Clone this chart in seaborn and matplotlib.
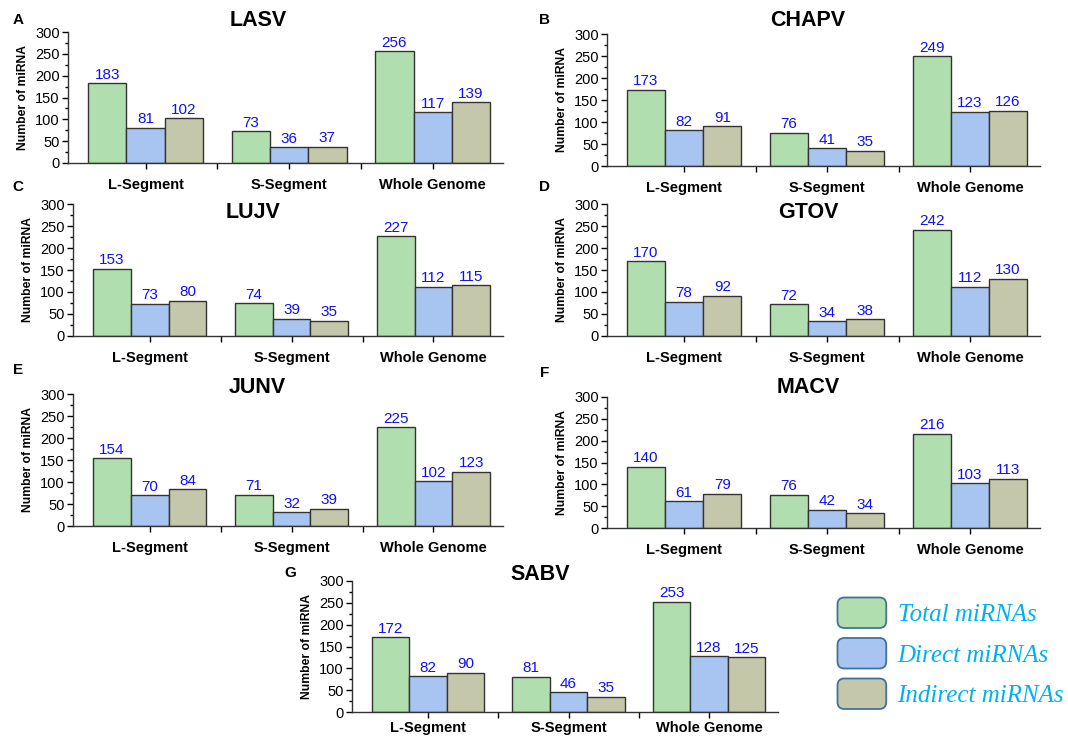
import matplotlib
matplotlib.use("Agg")
import matplotlib.pyplot as plt
from matplotlib.patches import Patch, FancyBboxPatch
from matplotlib.legend_handler import HandlerPatch
from matplotlib.ticker import MultipleLocator, FixedLocator
import seaborn as sns
import pandas as pd

# categories and series
segments = ["L-Segment", "S-Segment", "Whole Genome"]
mirna_types = ["Total miRNAs", "Direct miRNAs", "Indirect miRNAs"]
viruses = ["LASV", "CHAPV", "LUJV", "GTOV", "JUNV", "MACV", "SABV"]
panel_letters = ["A", "B", "C", "D", "E", "F", "G"]

# values per virus: [total, direct, indirect] for L, S, Whole
lasv = [[183, 81, 102], [73, 36, 37], [256, 117, 139]]
chapv = [[173, 82, 91], [76, 41, 35], [249, 123, 126]]
lujv = [[153, 73, 80], [74, 39, 35], [227, 112, 115]]
gtov = [[170, 78, 92], [72, 34, 38], [242, 112, 130]]
junv = [[154, 70, 84], [71, 32, 39], [225, 102, 123]]
macv = [[140, 61, 79], [76, 42, 34], [216, 103, 113]]
sabv = [[172, 82, 90], [81, 46, 35], [253, 128, 125]]
all_values = [lasv, chapv, lujv, gtov, junv, macv, sabv]

colors = ["#B1DEAF", "#A7C5F0", "#C5C7AB"]

sns.set_theme(style="ticks")
plt.rcParams["font.family"] = ["Liberation Sans", "DejaVu Sans"]
for key in ["text.color", "axes.labelcolor", "xtick.color", "ytick.color"]:
    plt.rcParams[key] = "black"

W, H = 1068, 737
fig = plt.figure(figsize=(W / 100, H / 100), dpi=100)

# axes boxes in pixels: left, top, right, bottom
boxes = [
    (68, 32, 503, 163),
    (607, 34, 1040, 166),
    (73, 204, 503, 336),
    (607, 204, 1040, 336),
    (73, 394, 503, 526),
    (607, 397, 1040, 528),
    (352, 581, 778, 712),
]
# title centers and letter positions in pixels
title_pos = [(258, 20), (808, 20), (253, 212), (808, 212), (257, 387), (808, 387), (540, 575)]
letter_pos = [(18, 20), (545, 20), (18, 187), (545, 187), (18, 370), (545, 373), (290, 573)]
xlabel_pad = [7, 7, 7, 7, 7, 7, 2.5]


def px_axes(box):
    l, t, r, b = box
    return [l / W, 1 - b / H, (r - l) / W, (b - t) / H]


class RoundBoxHandler(HandlerPatch):
    def create_artists(self, legend, orig_handle, xdescent, ydescent,
                       width, height, fontsize, trans):
        p = FancyBboxPatch((-xdescent, -ydescent), width, height,
                           boxstyle="round,pad=0,rounding_size=5",
                           facecolor=orig_handle.get_facecolor(),
                           edgecolor=orig_handle.get_edgecolor(),
                           linewidth=1.3, transform=trans)
        return [p]


for i, virus in enumerate(viruses):
    rows = []
    for s, seg in enumerate(segments):
        for k, mt in enumerate(mirna_types):
            rows.append({"segment": seg, "type": mt, "count": all_values[i][s][k]})
    df = pd.DataFrame(rows)

    ax = fig.add_axes(px_axes(boxes[i]))
    sns.barplot(data=df, x="segment", y="count", hue="type", order=segments,
                hue_order=mirna_types, palette=colors, width=0.8,
                edgecolor="#333333", linewidth=1.0, saturation=1, ax=ax, legend=False)
    for cont in ax.containers:
        ax.bar_label(cont, color="#1010F0", fontsize=11, padding=1)

    ax.set_ylim(0, 300)
    ax.set_xlim(-0.54, 2.49)
    ax.yaxis.set_major_locator(MultipleLocator(50))
    ax.yaxis.set_minor_locator(MultipleLocator(25))
    ax.xaxis.set_minor_locator(FixedLocator([0.5, 1.5]))
    ax.tick_params(axis="y", which="major", labelsize=10.5, length=4, width=1, pad=2)
    ax.tick_params(axis="y", which="minor", length=2.5, width=1)
    ax.tick_params(axis="x", which="both", length=4, width=1, pad=xlabel_pad[i])
    for lab in ax.get_xticklabels():
        lab.set_fontweight("bold")
        lab.set_fontsize(10.5)
    ax.set_xlabel("")
    ax.set_ylabel("Number of miRNA", fontsize=8.7, fontweight="bold", labelpad=4)
    sns.despine(ax=ax)
    for sp in ["left", "bottom"]:
        ax.spines[sp].set_linewidth(1.0)
        ax.spines[sp].set_color("#333333")

    tx, ty = title_pos[i]
    fig.text(tx / W, 1 - ty / H, virus, ha="center", va="center", fontsize=15.5, fontweight="bold")
    lx, ly = letter_pos[i]
    fig.text(lx / W, 1 - ly / H, panel_letters[i], ha="center", va="center", fontsize=11, fontweight="bold")

handles = [Patch(facecolor=c, edgecolor="#41719C") for c in colors]
fig.legend(handles, mirna_types, loc="upper left", bbox_to_anchor=(815 / W, 1 - 575 / H),
           frameon=False, handlelength=1.95, handleheight=1.5, labelspacing=0.4,
           handletextpad=0.45, labelcolor="#00B0F0",
           handler_map={Patch: RoundBoxHandler()},
           prop={"family": "Liberation Serif", "style": "italic", "size": 18})

fig.savefig("out.png", dpi=100)
